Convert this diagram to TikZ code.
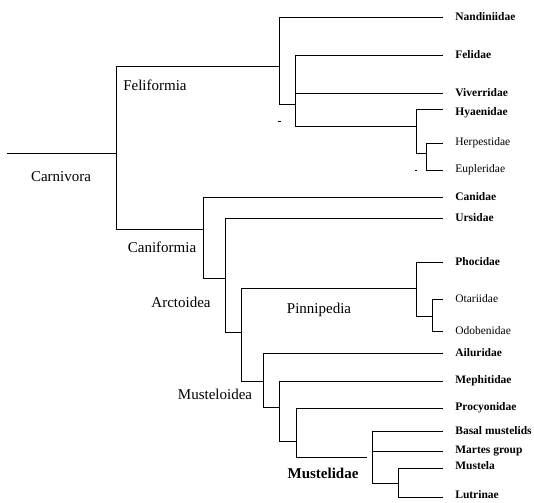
\documentclass[tikz,border=0pt]{standalone}
\usepackage{fontspec}
\setmainfont{Liberation Serif}
\newfontfamily\treefont{Liberation Serif}
\usetikzlibrary{positioning}
\tikzset{
  taxon/.style={anchor=west,inner sep=0pt,font=\treefont\fontsize{11.5}{13}\selectfont\bfseries},
  taxonreg/.style={taxon,font=\treefont\fontsize{11.5}{13}\selectfont},
  clade/.style={inner sep=0pt,font=\treefont\fontsize{15}{17}\selectfont},
  branch/.style={line width=0.65pt}
}
\begin{document}
\begin{tikzpicture}[x=1pt,y=-1pt,branch]
\useasboundingbox (0,0) rectangle (534,502);
% junctions
\coordinate (root) at (7,153);
\coordinate (carn) at (116,153);
\coordinate (feli) at (279,66);
\coordinate (feli2) at (295,104);
\coordinate (hyae) at (416,126);
\coordinate (herp) at (426,153);
\coordinate (cani) at (203,229);
\coordinate (arct0) at (225,278);
\coordinate (arct) at (241,332);
\coordinate (pinn) at (416,288);
\coordinate (otar) at (432,316);
\coordinate (muso) at (263,381);
\coordinate (muso2) at (279,407);
\coordinate (muso3) at (296,441);
\coordinate (mgap) at (367,457);
\coordinate (mtop) at (372,431);
\coordinate (mbot) at (372,483);
\coordinate (mlut) at (398,483);
% leaf ends
\coordinate (nand) at (443,17);
\coordinate (feld) at (443,55);
\coordinate (vive) at (443,93);
\coordinate (hyad) at (443,109);
\coordinate (herd) at (443,143);
\coordinate (eupd) at (443,170);
\coordinate (cand) at (443,197);
\coordinate (ursd) at (443,218);
\coordinate (phod) at (443,262);
\coordinate (otad) at (443,299);
\coordinate (odod) at (443,331);
\coordinate (aild) at (443,353);
\coordinate (mepd) at (443,381);
\coordinate (prod) at (443,408);
\coordinate (basd) at (443,431);
\coordinate (mard) at (443,451);
\coordinate (musd) at (443,468);
\coordinate (lutd) at (443,497);
% branches
\draw (root) -- (carn);
\draw (carn) |- (feli);
\draw (carn) |- (cani);
\draw (feli) |- (nand);
\draw (feli) |- (feli2);
\draw (feli2) |- (feld);
\draw (feli2) |- (vive);
\draw (feli2) |- (hyae);
\draw (hyae) |- (hyad);
\draw (hyae) |- (herp);
\draw (herp) |- (herd);
\draw (herp) |- (eupd);
\draw (cani) |- (cand);
\draw (cani) |- (arct0);
\draw (arct0) |- (ursd);
\draw (arct0) |- (arct);
\draw (arct) |- (pinn);
\draw (arct) |- (muso);
\draw (pinn) |- (phod);
\draw (pinn) |- (otar);
\draw (otar) |- (otad);
\draw (otar) |- (odod);
\draw (muso) |- (aild);
\draw (muso) |- (muso2);
\draw (muso2) |- (mepd);
\draw (muso2) |- (muso3);
\draw (muso3) |- (prod);
\draw (muso3) |- (mgap);
\draw (mtop) -- (basd);
\draw (mtop) -- (mbot) -- (mlut);
\draw (mtop) |- (mard);
\draw (mlut) |- (musd);
\draw (mlut) |- (lutd);
% stray marks
\draw (278,121) -- (280.5,121);
\draw (415,170) -- (417,170);
% leaf names
\node[taxon,right=12pt of nand] (nandiniidae) {Nandiniidae};
\node[taxon,right=12pt of feld] (felidae) {Felidae};
\node[taxon,right=12pt of vive] (viverridae) {Viverridae};
\node[taxon,right=12pt of hyad,yshift=-4pt] (hyaenidae) {Hyaenidae};
\node[taxonreg,right=12pt of herd] (herpestidae) {Herpestidae};
\node[taxonreg,right=12pt of eupd] (eupleridae) {Eupleridae};
\node[taxon,right=12pt of cand] (canidae) {Canidae};
\node[taxon,right=12pt of ursd] (ursidae) {Ursidae};
\node[taxon,right=12pt of phod] (phocidae) {Phocidae};
\node[taxonreg,right=12pt of otad] (otariidae) {Otariidae};
\node[taxonreg,right=12pt of odod] (odobenidae) {Odobenidae};
\node[taxon,right=12pt of aild] (ailuridae) {Ailuridae};
\node[taxon,right=12pt of mepd] (mephitidae) {Mephitidae};
\node[taxon,right=12pt of prod] (procyonidae) {Procyonidae};
\node[taxon,right=12pt of basd] (basal) {Basal mustelids};
\node[taxon,right=12pt of mard] (martes) {Martes group};
\node[taxon,right=12pt of musd,yshift=2pt] (mustela) {Mustela};
\node[taxon,right=12pt of lutd,yshift=2pt] (lutrinae) {Lutrinae};
% clade names
\node[clade] (carnivora) at (61,177) {Carnivora};
\node[clade,anchor=west] (feliformia) at (123,85) {Feliformia};
\node[clade] (caniformia) at (162,247) {Caniformia};
\node[clade] (arctoidea) at (181,302) {Arctoidea};
\node[clade] (musteloidea) at (215,394) {Musteloidea};
\node[clade] (pinnipedia) at (319,310) {Pinnipedia};
\node[clade,font=\treefont\fontsize{15}{17}\selectfont\bfseries] (mustelidae) at (323,473) {Mustelidae};
\end{tikzpicture}
\end{document}
